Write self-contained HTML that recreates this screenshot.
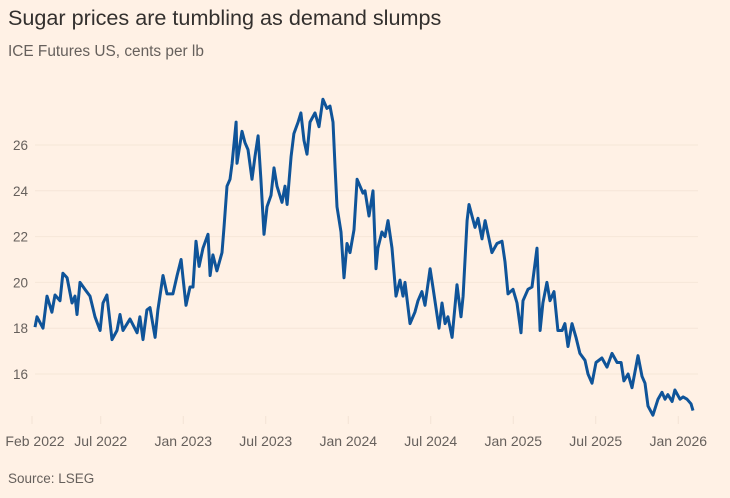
<!DOCTYPE html>
<html><head><meta charset="utf-8"><style>
body{margin:0;background:#fff1e5;width:730px;height:498px;overflow:hidden;font-family:"Liberation Sans",sans-serif}
.t{position:absolute;left:8px;top:5px;font-size:21.6px;color:#33302e}
.s{position:absolute;left:8px;top:43px;font-size:15.4px;color:#66605c}
.src{position:absolute;left:8px;top:471px;font-size:13.5px;color:#66605c}
svg{position:absolute;left:0;top:0}
</style></head><body>
<div class="t">Sugar prices are tumbling as demand slumps</div>
<div class="s">ICE Futures US, cents per lb</div>
<div class="src">Source: LSEG</div>
<svg id="c" width="730" height="498"></svg>
<script>
const yTicks=[16,18,20,22,24,26];
const xTickMonths=[0,5,11,17,23,29,35,41,47];
const xTickLabels=["Feb 2022","Jul 2022","Jan 2023","Jul 2023","Jan 2024","Jul 2024","Jan 2025","Jul 2025","Jan 2026"];
const months=[0.22,0.36,0.8,1.09,1.45,1.67,2.04,2.25,2.55,2.91,3.13,3.27,3.49,3.85,4.22,4.58,4.95,5.16,5.45,5.82,6.18,6.4,6.62,7.13,7.64,7.85,8.07,8.36,8.58,8.95,9.16,9.53,9.82,10.25,10.55,10.84,10.98,11.2,11.49,11.71,11.93,12.15,12.44,12.8,12.95,13.16,13.45,13.82,13.96,14.18,14.4,14.55,14.84,14.91,15.27,15.49,15.71,16.0,16.22,16.44,16.65,16.87,17.09,17.38,17.6,17.82,18.18,18.4,18.55,18.84,19.05,19.35,19.56,19.78,20.0,20.22,20.58,20.87,21.16,21.45,21.67,21.89,22.04,22.18,22.47,22.69,22.91,23.13,23.42,23.64,24.07,24.22,24.51,24.8,25.02,25.16,25.45,25.67,25.89,26.18,26.47,26.76,26.98,27.13,27.49,27.85,28.07,28.36,28.58,28.95,29.16,29.6,29.82,30.04,30.25,30.55,30.91,31.2,31.35,31.64,31.78,32.22,32.44,32.73,32.95,33.45,33.82,34.18,34.4,34.62,34.98,35.27,35.56,35.71,36.07,36.36,36.73,36.95,37.16,37.45,37.67,37.96,38.25,38.55,38.76,38.98,39.27,39.56,39.85,40.22,40.44,40.73,41.02,41.45,41.82,42.18,42.55,42.84,43.05,43.35,43.64,44.07,44.36,44.58,44.8,45.16,45.53,45.82,46.04,46.25,46.55,46.76,47.13,47.35,47.64,47.93,48.07];
const prices=[18.05,18.5,18.0,19.4,18.7,19.45,19.2,20.4,20.2,19.1,19.4,18.6,20.0,19.7,19.4,18.5,17.9,19.1,19.45,17.5,17.9,18.6,17.9,18.4,17.8,18.5,17.5,18.8,18.9,17.6,18.8,20.3,19.5,19.5,20.3,21.0,20.2,19.0,19.8,19.8,21.8,20.7,21.5,22.1,20.3,21.2,20.5,21.3,22.4,24.2,24.5,25.2,27.0,25.2,26.6,26.1,25.8,24.5,25.5,26.4,24.5,22.1,23.3,23.8,25.0,24.2,23.5,24.2,23.4,25.5,26.5,27.0,27.4,26.2,25.6,27.0,27.4,26.8,28.0,27.6,27.7,27.0,25.0,23.3,22.2,20.2,21.7,21.3,22.3,24.5,23.9,24.0,22.9,24.0,20.6,21.5,22.2,22.0,22.7,21.5,19.4,20.1,19.4,20.0,18.2,18.7,19.2,19.6,19.0,20.6,19.8,18.0,19.1,18.2,18.5,17.6,19.9,18.5,19.4,22.7,23.4,22.4,22.8,21.9,22.7,21.3,21.7,21.8,20.9,19.5,19.7,19.1,17.8,19.2,19.7,19.8,21.5,17.9,19.1,20.0,19.2,19.6,17.9,17.9,18.2,17.2,18.2,17.6,16.9,16.6,16.0,15.6,16.5,16.7,16.3,16.9,16.5,16.5,15.7,16.0,15.4,16.8,15.9,15.6,14.6,14.2,14.9,15.2,14.9,15.1,14.8,15.3,14.9,15.0,14.9,14.7,14.4];
const NS="http://www.w3.org/2000/svg";
const svg=document.getElementById('c');
const X=m=>32+m*13.75;
const Y=v=>145+(26-v)*22.9;
function mk(t,a){const e=document.createElementNS(NS,t);for(const k in a)e.setAttribute(k,a[k]);svg.appendChild(e);return e;}
yTicks.forEach(v=>{
  const g=mk('line',{x1:35,x2:698,y1:Y(v),y2:Y(v),stroke:'#f6e6d8','stroke-width':1});
  
  
  const t=mk('text',{x:13,y:Y(v)+5,'font-size':13.5,fill:'#66605c'});
  t.textContent=v;
  
  
});
xTickMonths.forEach((m,i)=>{
  const tk=mk('line',{x1:X(m),x2:X(m),y1:416,y2:424,stroke:'#f3e3d5','stroke-width':1});
  
  
  const t=mk('text',{x:X(m)+(i===0?3:0),y:446,'font-size':14,fill:'#66605c','text-anchor':'middle'});
  t.textContent=xTickLabels[i];
  
  
});
const d=months.map((m,i)=>(i?'L':'M')+X(m).toFixed(1)+','+Y(prices[i]).toFixed(1)).join('');
const p=mk('path',{d:d,fill:'none',stroke:'#0f5499','stroke-width':3,'stroke-linejoin':'round'});


</script>
</body></html>
